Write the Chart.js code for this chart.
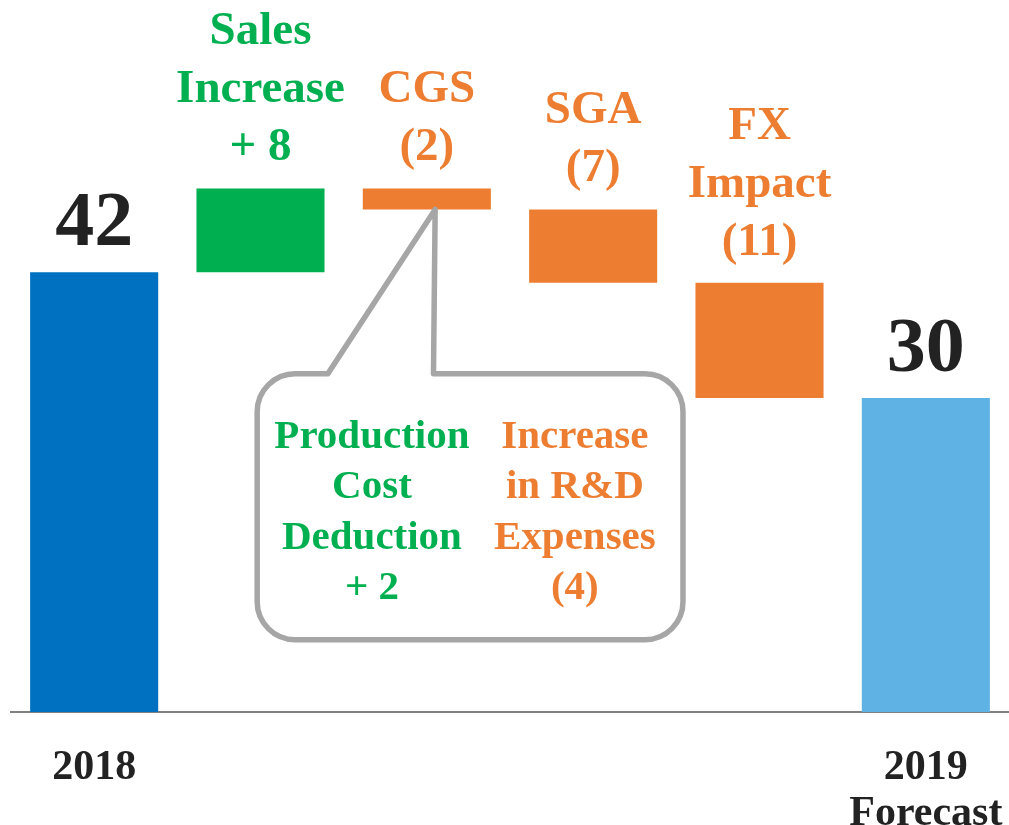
<!DOCTYPE html>
<html>
<head>
<meta charset="utf-8">
<title>2019 Forecast Bridge</title>
<script src="https://cdn.jsdelivr.net/npm/chart.js@4/dist/chart.umd.min.js"></script>
<style>
  body { margin: 0; background: #fff; }
  #wrap { width: 1009px; height: 825px; position: relative; }
</style>
</head>
<body>
<div id="wrap"><canvas id="bridgeChart"></canvas></div>
<script>
// Categories on the x axis (empty for the floating steps)
const categories = ['2018', '', '', '', '', ['2019', 'Forecast']];

// Floating bar ranges
const barLow = [0, 42, 48, 41, 30, 0];
const barHigh = [42, 50, 50, 48, 41, 30];

// Colours of each bar
const barColors = ['#0070C0', '#00B050', '#ED7D31', '#ED7D31', '#ED7D31', '#5EB3E4'];

// Text above each bar
const barLabels = [['42'], ['Sales', 'Increase', '+ 8'], ['CGS', '(2)'], ['SGA', '(7)'], ['FX', 'Impact', '(11)'], ['30']];
const labelColors = ['#222222', '#00B050', '#ED7D31', '#ED7D31', '#ED7D31', '#222222'];
const totalIdx = [0, 5];

// Callout breaking down CGS
const calloutLeft = ['Production', 'Cost', 'Deduction', '+ 2'];
const calloutRight = ['Increase', 'in R&D', 'Expenses', '(4)'];

const FONT = '"Liberation Serif", "Times New Roman", serif';

// Draw the labels above bars and the speech bubble
const annotationPlugin = {
    id: 'annotations',
    afterDatasetsDraw(chart) {
        const ctx = chart.ctx;
        const xs = chart.scales.x;
        const ys = chart.scales.y;
        const bars = chart.getDatasetMeta(0).data;

        // speech bubble
        const left = xs.getPixelForValue(0.98);
        const right = xs.getPixelForValue(3.54);
        const top = ys.getPixelForValue(32.3);
        const bottom = ys.getPixelForValue(6.9);
        const r = 38;
        const tailL = xs.getPixelForValue(1.405);
        const tailR = xs.getPixelForValue(2.04);
        const tipX = xs.getPixelForValue(2.05);
        const tipY = ys.getPixelForValue(barLow[2]);

        ctx.save();
        ctx.beginPath();
        ctx.moveTo(tailR, top);
        ctx.lineTo(right - r, top);
        ctx.arcTo(right, top, right, top + r, r);
        ctx.lineTo(right, bottom - r);
        ctx.arcTo(right, bottom, right - r, bottom, r);
        ctx.lineTo(left + r, bottom);
        ctx.arcTo(left, bottom, left, bottom - r, r);
        ctx.lineTo(left, top + r);
        ctx.arcTo(left, top, left + r, top, r);
        ctx.lineTo(tailL, top);
        ctx.lineTo(tipX, tipY);
        ctx.closePath();
        ctx.fillStyle = '#ffffff';
        ctx.fill();
        ctx.lineWidth = 5.5;
        ctx.lineJoin = 'round';
        ctx.strokeStyle = '#A6A6A6';
        ctx.stroke();

        // bubble text
        ctx.font = 'bold 41px ' + FONT;
        ctx.textAlign = 'center';
        ctx.textBaseline = 'alphabetic';
        const colL = xs.getPixelForValue(1.67);
        const colR = xs.getPixelForValue(2.89);
        calloutLeft.forEach((t, i) => {
            ctx.fillStyle = '#00B050';
            ctx.fillText(t, colL, top + 74 + i * 50.5);
        });
        calloutRight.forEach((t, i) => {
            ctx.fillStyle = '#ED7D31';
            ctx.fillText(t, colR, top + 74 + i * 50.5);
        });

        // labels above bars
        bars.forEach((bar, i) => {
            const lines = barLabels[i];
            const isTotal = totalIdx.includes(i);
            ctx.fillStyle = labelColors[i];
            ctx.font = 'bold ' + (isTotal ? 78 : 47) + 'px ' + FONT;
            const lineH = 58;
            const base = bar.y - (isTotal ? 27 : 28);
            lines.forEach((t, j) => {
                ctx.fillText(t, bar.x, base - (lines.length - 1 - j) * lineH);
            });
        });
        ctx.restore();
    }
};

const ctx = document.getElementById('bridgeChart').getContext('2d');
const bridgeChart = new Chart(ctx, {
    type: 'bar',
    data: {
        labels: categories,
        datasets: [{
            data: barLow.map((lo, i) => [lo, barHigh[i]]),
            backgroundColor: barColors,
            borderWidth: 0,
            borderSkipped: false,
            barPercentage: 0.77,
            categoryPercentage: 1
        }]
    },
    options: {
        responsive: true,
        maintainAspectRatio: false,
        animation: false,
        layout: { padding: { left: 11, right: 0, top: 0, bottom: 0 } },
        plugins: {
            legend: { display: false },
            tooltip: { enabled: false }
        },
        scales: {
            x: {
                grid: { display: false },
                border: { display: true, color: '#808080', width: 2 },
                ticks: {
                    color: '#222222',
                    padding: 25,
                    maxRotation: 0,
                    autoSkip: false,
                    font: { family: FONT, size: 42, weight: 'bold', lineHeight: 1.1 }
                },
                afterFit(scale) {
                    scale.height = 113;
                    scale.paddingLeft = 0;
                    scale.paddingRight = 0;
                }
            },
            y: {
                display: false,
                min: 0,
                max: 68
            }
        }
    },
    plugins: [annotationPlugin]
});
</script>
</body>
</html>
